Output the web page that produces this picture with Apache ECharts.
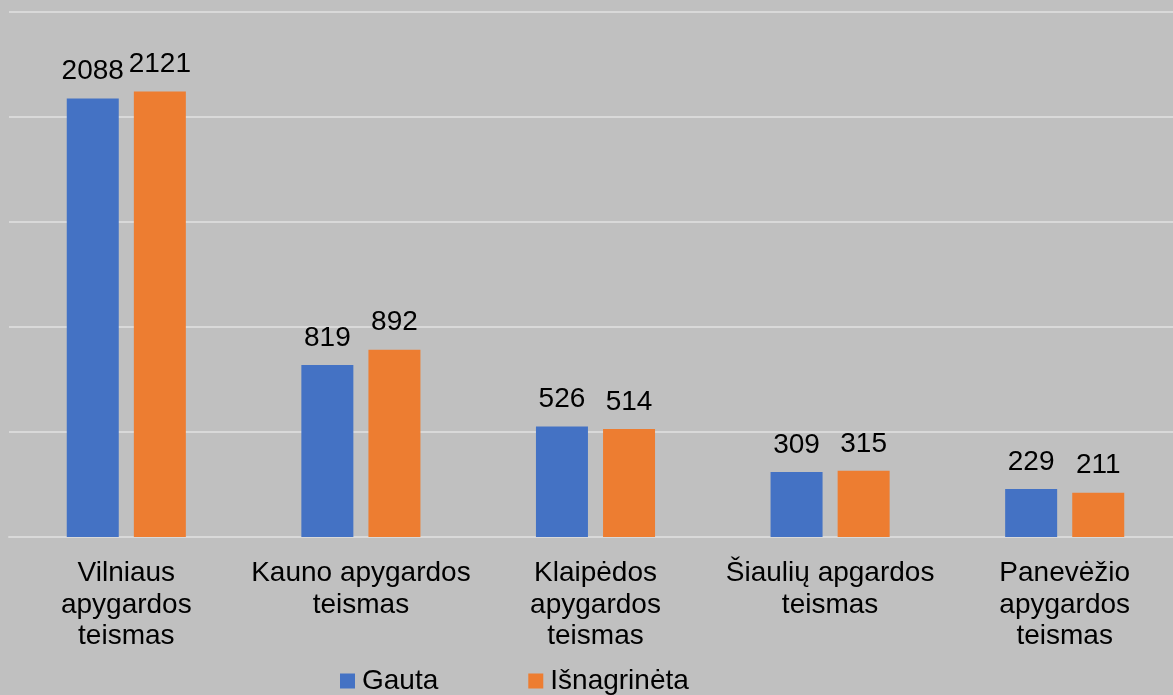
<!DOCTYPE html>
<html>
<head>
<meta charset="utf-8">
<script src="https://cdn.jsdelivr.net/npm/echarts@6/dist/echarts.min.js"></script>
<style>
  html, body { margin: 0; padding: 0; background: #c0c0c0; overflow: hidden; }
  #chart { width: 1182px; height: 695px; }
</style>
</head>
<body>
<div id="chart"></div>
<script>
const CATEGORIES = [
  "Vilniaus\napygardos\nteismas",
  "Kauno apygardos\nteismas",
  "Klaipėdos\napygardos\nteismas",
  "Šiaulių apgardos\nteismas",
  "Panevėžio\napygardos\nteismas"
];
const GAUTA = [2088, 819, 526, 309, 229];
const ISNAGRINETA = [2121, 892, 514, 315, 211];

const FONT = "Liberation Sans, Arial, sans-serif";

const chart = echarts.init(document.getElementById("chart"));

const barLabel = {
  show: true,
  position: "top",
  distance: 13,
  color: "#000000",
  fontSize: 28,
  fontFamily: FONT
};

chart.setOption({
  backgroundColor: "#c0c0c0",
  animation: false,
  textStyle: { fontFamily: FONT },
  grid: { left: 9, top: 12, right: 0, bottom: 158, containLabel: false },
  legend: {
    bottom: -5,
    left: 335,
    itemWidth: 15,
    itemHeight: 15,
    itemGap: 90,
    icon: "rect",
    textStyle: { fontSize: 28, color: "#000000", fontFamily: FONT, padding: [0, 0, 0, 2] },
    data: ["Gauta", "Išnagrinėta"]
  },
  xAxis: {
    type: "category",
    data: CATEGORIES,
    axisLine: { show: true, lineStyle: { color: "#d9d9d9", width: 2 } },
    axisTick: { show: false },
    axisLabel: {
      interval: 0,
      margin: 21,
      color: "#000000",
      fontSize: 28,
      lineHeight: 31.5,
      fontFamily: FONT
    }
  },
  yAxis: {
    type: "value",
    min: 0,
    max: 2500,
    interval: 500,
    axisLabel: { show: false },
    axisLine: { show: false },
    axisTick: { show: false },
    splitLine: { lineStyle: { color: "#d9d9d9", width: 2 } }
  },
  series: [
    {
      name: "Gauta",
      type: "bar",
      data: GAUTA,
      barWidth: 52,
      barGap: "29%",
      itemStyle: { color: "#4472c4" },
      label: barLabel
    },
    {
      name: "Išnagrinėta",
      type: "bar",
      data: ISNAGRINETA,
      barWidth: 52,
      itemStyle: { color: "#ed7d31" },
      label: barLabel
    }
  ]
});

window.addEventListener("resize", () => chart.resize());
</script>
</body>
</html>
